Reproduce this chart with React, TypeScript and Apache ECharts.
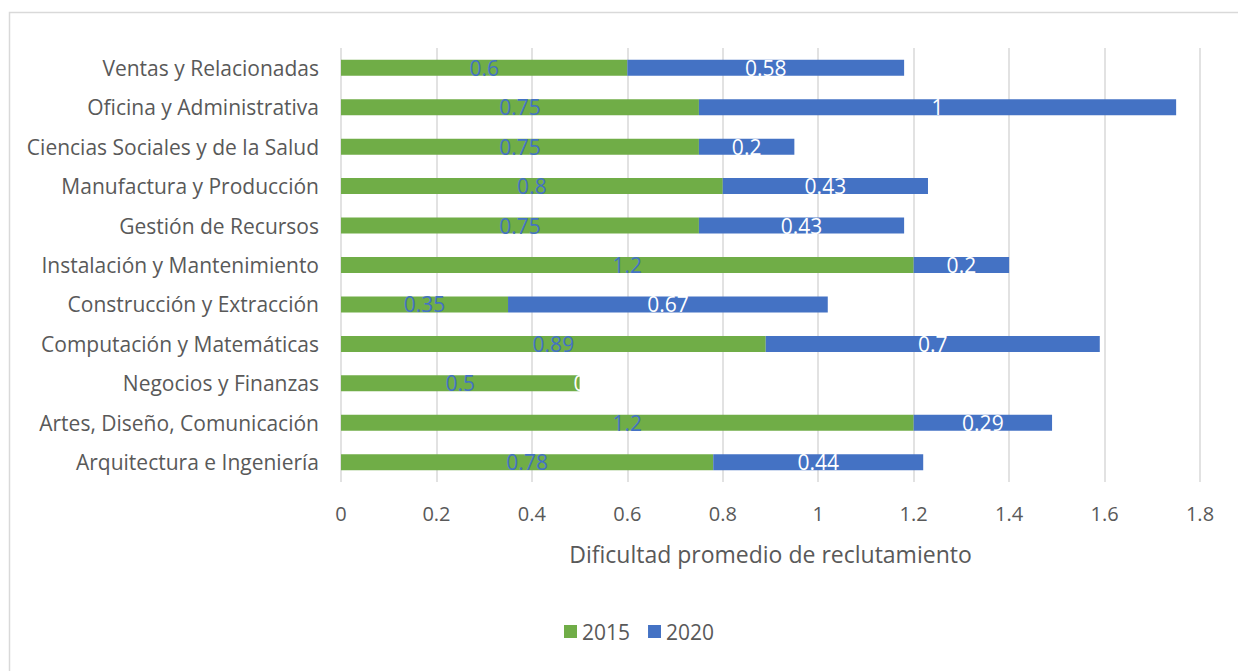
import React, { useEffect, useRef } from "react";
import * as echarts from "echarts";

const categories = [
  "Arquitectura e Ingeniería",
  "Artes, Diseño, Comunicación",
  "Negocios y Finanzas",
  "Computación y Matemáticas",
  "Construcción y Extracción",
  "Instalación y Mantenimiento",
  "Gestión de Recursos",
  "Manufactura y Producción",
  "Ciencias Sociales y de la Salud",
  "Oficina y Administrativa",
  "Ventas y Relacionadas",
];
const values2015 = [0.78, 1.2, 0.5, 0.89, 0.35, 1.2, 0.75, 0.8, 0.75, 0.75, 0.6];
const values2020 = [0.44, 0.29, 0, 0.7, 0.67, 0.2, 0.43, 0.43, 0.2, 1, 0.58];
const xTicks = [0, 0.2, 0.4, 0.6, 0.8, 1, 1.2, 1.4, 1.6, 1.8];

const FONT = "Open Sans";

export default function App() {
  const ref = useRef<HTMLDivElement>(null);
  useEffect(() => {
    const chart = echarts.init(ref.current!, null, { renderer: "svg" });
    chart.setOption({
      animation: false,
      textStyle: { fontFamily: FONT },
      graphic: [
        {
          type: "rect",
          shape: { x: 9.5, y: 12.5, width: 1300, height: 700 },
          style: { fill: "none", stroke: "#D9D9D9", lineWidth: 1.5 },
          silent: true,
        },
      ],
      grid: { left: 341, right: 38, top: 48, bottom: 189, containLabel: false },
      legend: {
        bottom: 24,
        left: 559,
        itemWidth: 13,
        itemHeight: 13,
        itemGap: 18,
        icon: "rect",
        textStyle: { fontSize: 21, color: "#595959", fontFamily: FONT },
        data: ["2015", "2020"],
      },
      xAxis: {
        type: "value",
        min: 0,
        max: 1.8,
        interval: 0.2,
        name: "Dificultad promedio de reclutamiento",
        nameLocation: "middle",
        nameGap: 60,
        nameTextStyle: { fontSize: 23, color: "#595959", fontFamily: FONT },
        axisLine: { show: false },
        axisTick: { show: false },
        axisLabel: {
          fontSize: 20,
          color: "#595959",
          margin: 21,
          formatter: (v: number) => {
            const t = xTicks.find((x) => Math.abs(x - v) < 1e-9);
            return t === undefined ? "" : String(t);
          },
        },
        splitLine: { show: true, lineStyle: { color: "#D9D9D9", width: 1.5 } },
      },
      yAxis: {
        type: "category",
        data: categories,
        axisLine: { show: false },
        axisTick: { show: false },
        axisLabel: { fontSize: 21, color: "#595959", margin: 22 },
      },
      series: [
        {
          name: "2015",
          type: "bar",
          stack: "total",
          data: values2015,
          barWidth: 16,
          itemStyle: { color: "#70AD47" },
          label: {
            show: true,
            position: "inside",
            color: "#4472C4",
            fontSize: 21,
            fontFamily: FONT,
          },
        },
        {
          name: "2020",
          type: "bar",
          stack: "total",
          data: values2020,
          barWidth: 16,
          itemStyle: { color: "#4472C4" },
          label: {
            show: true,
            position: "inside",
            color: "#FFFFFF",
            fontSize: 21,
            fontFamily: FONT,
          },
        },
      ],
    });
    return () => chart.dispose();
  }, []);
  return (
    <div
      ref={ref}
      style={{ position: "absolute", left: 0, top: 0, width: 1238, height: 671, background: "#fff" }}
    />
  );
}
